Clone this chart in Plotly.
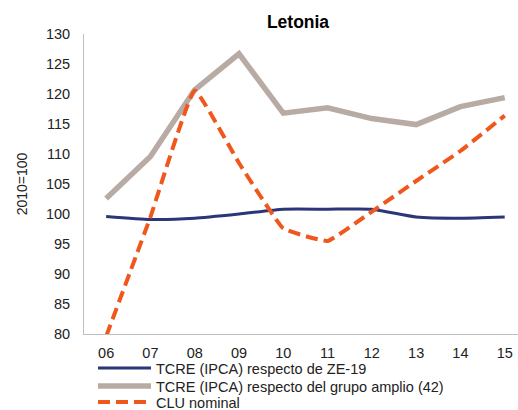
import plotly.graph_objects as go

years = ["06", "07", "08", "09", "10", "11", "12", "13", "14", "15"]
tcre_ze19 = [99.6, 99.1, 99.3, 100.0, 100.8, 100.8, 100.8, 99.5, 99.3, 99.5]
tcre_amplio = [102.6, 109.6, 120.7, 126.7, 116.8, 117.7, 115.9, 114.9, 117.9, 119.4]
clu_nominal = [79.6, 99.5, 120.6, 108.5, 97.6, 95.5, 100.4, 105.5, 110.5, 116.4]

names = ["TCRE (IPCA) respecto de ZE-19",
         "TCRE (IPCA) respecto del grupo amplio (42)",
         "CLU nominal"]

FONT = "Liberation Sans, Arial, sans-serif"
L, T, B, H, W = 84, 34, 76, 410, 518
PH = H - T - B
PW = W - L

fig = go.Figure()
fig.add_trace(go.Scatter(x=years, y=tcre_ze19, name=names[0], mode="lines", legend="legend",
                         line=dict(color="#2B3577", width=3, shape="spline", smoothing=0.5)))
fig.add_trace(go.Scatter(x=years, y=tcre_amplio, name=names[1], mode="lines", legend="legend2",
                         line=dict(color="#B8ABA3", width=5.5)))
fig.add_trace(go.Scatter(x=years, y=clu_nominal, name=names[2], mode="lines", legend="legend3",
                         line=dict(color="#F0571C", width=4, dash="12px,6px", shape="spline", smoothing=0.3)))

def leg(row_center):
    return dict(x=(93 - L) / PW, xanchor="left", y=(H - B - row_center) / PH, yanchor="middle",
                itemwidth=53, bgcolor="rgba(0,0,0,0)", borderwidth=0,
                font=dict(family=FONT, size=14.5, color="#222"))

fig.update_layout(
    width=W, height=H,
    margin=dict(l=L, r=0, t=T, b=B, autoexpand=False),
    paper_bgcolor="white", plot_bgcolor="white",
    font=dict(family=FONT, size=14.5, color="#222"),
    title=dict(text="<b>Letonia</b>", x=298 / W, xanchor="center", y=1 - 22 / H, yanchor="middle",
               font=dict(family=FONT, size=17.5, color="black")),
    showlegend=True,
    legend=leg(368),
    legend2=leg(386),
    legend3=leg(402),
    xaxis=dict(type="category", range=[-0.5, 9.3], showline=True, linecolor="#BFBFBF",
               linewidth=1, showgrid=False, ticks="outside", ticklen=6, tickcolor="white",
               tickfont=dict(family=FONT, size=14.5)),
    yaxis=dict(range=[80, 130], dtick=5, showline=True, linecolor="#BFBFBF", linewidth=1,
               showgrid=False, zeroline=False, ticks="outside", ticklen=10, tickcolor="white",
               tickfont=dict(family=FONT, size=14.5),
               title=dict(text="2010=100", font=dict(family=FONT, size=14), standoff=14)),
)

fig.write_html("out.html", config={"displayModeBar": False},
               post_script="document.body.style.margin='0px';document.body.style.overflow='hidden';")
